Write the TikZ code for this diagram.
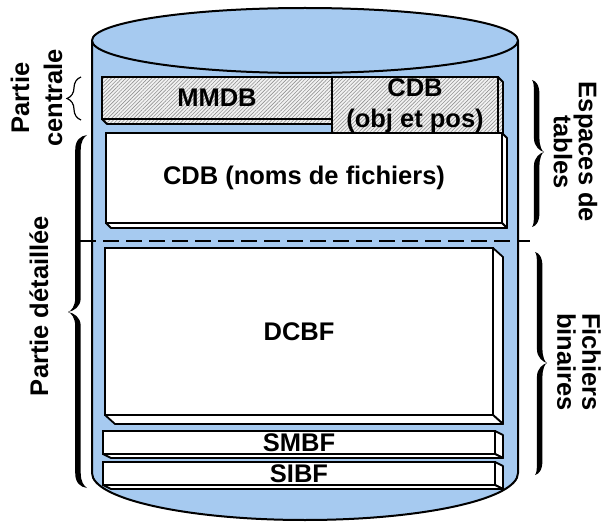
\documentclass[tikz,border=0pt]{standalone}
\usepackage{fontspec}
\setmainfont{Liberation Sans}
\usetikzlibrary{patterns.meta,decorations.pathreplacing,calc}
\definecolor{cylblue}{RGB}{166,202,240}
% extruded faces (right side and bottom) of a slab whose front is node #1
\newcommand\slabfaces[4]{%
  \path[face,#4] (#1.north east) -- ++(#2,#3) -- ($(#1.south east)+(#2,#3)$) -- (#1.south east) -- cycle;
  \path[face,#4] (#1.south west) -- (#1.south east) -- ++(#2,#3) -- ($(#1.south west)+(#2,#3)$) -- cycle;}
% filled curly brace: #1 end x, #2 signed depth, #3 top y, #4 bottom y, #5 tip y
\newcommand\gbrace[5]{%
  \pgfmathsetmacro\bxo{#1+0.62*(#2)}%
  \pgfmathsetmacro\bxi{\bxo-5.5*sign(#2)}%
  \pgfmathsetmacro\bxt{#1+(#2)}%
  \pgfmathsetmacro\bca{#1+0.35*(#2)}%
  \pgfmathsetmacro\bcb{#1+0.15*(#2)}%
  \pgfmathsetmacro\bcm{#1+0.82*(#2)}%
  \pgfmathsetmacro\bcn{#1+0.7*(#2)}%
  \fill (#1,#3) .. controls (\bca,#3+1) and (\bxo,#3+5) .. (\bxo,#3+15)
   -- (\bxo,#5-14) .. controls (\bxo,#5-6) and (\bcm,#5-1) .. (\bxt,#5)
   .. controls (\bcm,#5+1) and (\bxo,#5+6) .. (\bxo,#5+14)
   -- (\bxo,#4-15) .. controls (\bxo,#4-5) and (\bca,#4-1) .. (#1,#4)
   .. controls (\bcb,#4-2) and (\bxi,#4-6) .. (\bxi,#4-15)
   -- (\bxi,#5+14) .. controls (\bxi,#5+5) and (\bcn,#5+1) .. (\bxt,#5)
   .. controls (\bcn,#5-1) and (\bxi,#5-5) .. (\bxi,#5-14)
   -- (\bxi,#3+15) .. controls (\bxi,#3+6) and (\bcb,#3+2) .. (#1,#3) -- cycle;}
\begin{document}
\begin{tikzpicture}[x=1pt,y=-1pt,
  lab/.style={inner sep=0pt,outer sep=0pt,align=center,font=\fontsize{25.5}{30}\selectfont\bfseries},
  front/.style={rectangle,draw,line width=1.8pt,fill=white,inner sep=0pt,outer sep=0pt,
    align=center,font=\fontsize{25.5}{31}\selectfont\bfseries},
  face/.style={draw,line width=1.8pt,fill=white,line join=round},
  hatched/.style={preaction={fill=gray!10},
    pattern={Lines[angle=45,distance=2.6pt,line width=0.6pt]},pattern color=gray!85},
  cylline/.style={line width=2pt,line join=round}]
\useasboundingbox (0,0) rectangle (611,524);
% cylinder
\fill[cylblue] (92,40.5) -- (92,473) arc[start angle=180,end angle=0,x radius=213,y radius=47] -- (518,40.5) -- cycle;
\draw[cylline] (92,40.5) -- (92,473) arc[start angle=180,end angle=0,x radius=213,y radius=47] -- (518,40.5);
\draw[cylline,fill=cylblue] (305,40.5) ellipse[x radius=213,y radius=32.5];
% slabs
\node[front,hatched,minimum width=230pt,minimum height=42pt] (mmdb) at (217,98) {MMDB};
\slabfaces{mmdb}{5}{5}{hatched}
\node[front,hatched,minimum width=166pt,minimum height=57pt] (cdbobj) at (415,105.5) {CDB\\(obj et pos)};
\slabfaces{cdbobj}{5}{5}{hatched}
\node[front,minimum width=396pt,minimum height=90pt] (cdbnoms) at (304,178) {CDB (noms de fichiers)};
\slabfaces{cdbnoms}{5}{5}{}
\node[front,minimum width=388pt,minimum height=167pt] (dcbf) at (299,331.5) {DCBF};
\slabfaces{dcbf}{10}{9}{}
\node[front,minimum width=392pt,minimum height=23pt] (smbf) at (299,442.5) {SMBF};
\slabfaces{smbf}{8}{4}{}
\node[front,minimum width=392pt,minimum height=23pt] (sibf) at (299,473.5) {SIBF};
\slabfaces{sibf}{8}{4}{}
% dashed separator
\coordinate (dl) at (80,241);
\coordinate (dr) at (530,241);
\draw[line width=1.5pt,dash pattern=on 16pt off 7pt] (dl) -- (dr);
% braces
\draw[decorate,decoration={brace,amplitude=14pt},line width=1.2pt] (81,120) -- (81,77);
\gbrace{87}{-19}{135}{488}{312}
\gbrace{532}{12}{80}{227}{152}
\gbrace{535}{12}{252}{475}{363}
% side labels
\node[lab,rotate=90,font=\fontsize{25.5}{33}\selectfont\bfseries] (pc) at (36.5,98) {Partie\\centrale};
\node[lab,rotate=90,anchor=base] (pd) at (48,306) {Partie détaillée};
\node[lab,rotate=-90,font=\fontsize{25.5}{25}\selectfont\bfseries] (et) at (575.5,152) {Espaces de\\tables};
\node[lab,rotate=-90,font=\fontsize{25.5}{25}\selectfont\bfseries] (fb) at (579,362) {Fichiers\\binaires};
\end{tikzpicture}
\end{document}
